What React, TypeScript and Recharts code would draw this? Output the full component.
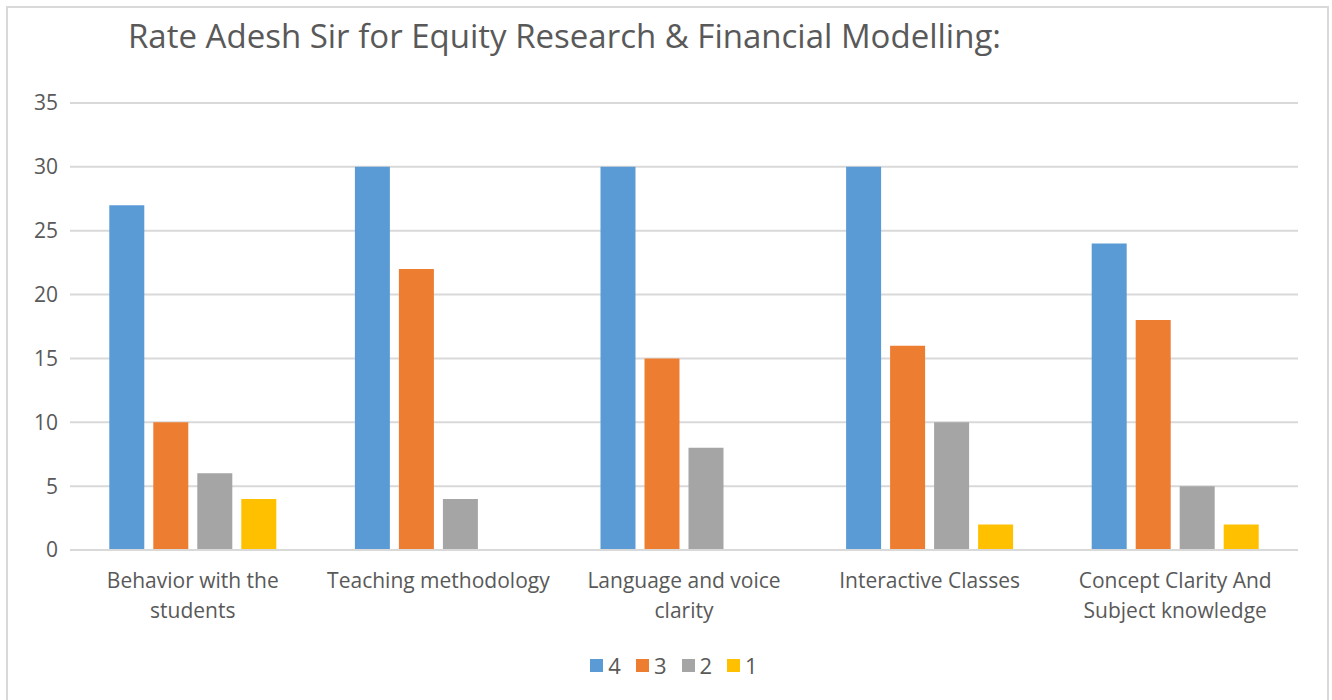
import { BarChart, Bar, XAxis, YAxis, CartesianGrid } from "recharts";

const title = "Rate Adesh Sir for Equity Research & Financial Modelling:";

const categories = [
  "Behavior with the students",
  "Teaching methodology",
  "Language and voice clarity",
  "Interactive Classes",
  "Concept Clarity And Subject knowledge",
];

const seriesNames = ["4", "3", "2", "1"];
const seriesColors = ["#5b9bd5", "#ed7d31", "#a5a5a5", "#ffc000"];

const rating4 = [27, 30, 30, 30, 24];
const rating3 = [10, 22, 15, 16, 18];
const rating2 = [6, 4, 8, 10, 5];
const rating1 = [4, 0, 0, 2, 2];

const yTicks = [0, 5, 10, 15, 20, 25, 30, 35];

const seriesValues = [rating4, rating3, rating2, rating1];

const data = categories.map((name, i) => {
  const row: Record<string, string | number> = { name };
  seriesNames.forEach((s, j) => {
    row[s] = seriesValues[j][i];
  });
  return row;
});

const FONT = "'Open Sans', 'Noto Sans', sans-serif";
const TEXT = "#595959";

function wrap(label: string, max: number) {
  const words = label.split(" ");
  const lines: string[] = [];
  let cur = "";
  for (const w of words) {
    const next = cur ? cur + " " + w : w;
    if (next.length > max && cur) {
      lines.push(cur);
      cur = w;
    } else {
      cur = next;
    }
  }
  if (cur) lines.push(cur);
  return lines;
}

function CategoryTick(props: any) {
  const { x, y, payload } = props;
  const lines = wrap(String(payload.value), 20);
  return (
    <text
      x={x}
      y={y}
      textAnchor="middle"
      fill={TEXT}
      fontSize={21}
      fontFamily={FONT}
    >
      {lines.map((l, i) => (
        <tspan key={i} x={x} dy={30}>
          {l}
        </tspan>
      ))}
    </text>
  );
}

export default function App() {
  return (
    <div
      style={{
        position: "absolute",
        left: 0,
        top: 0,
        width: 1332,
        height: 700,
        background: "#fff",
        overflow: "hidden",
        fontFamily: FONT,
      }}
    >
      <div
        style={{
          position: "absolute",
          left: 6,
          top: 6,
          width: 1319,
          height: 720,
          border: "2px solid #d9d9d9",
        }}
      />
      <div
        style={{
          position: "absolute",
          left: 128,
          top: 12,
          fontSize: 33,
          lineHeight: "48px",
          color: TEXT,
          whiteSpace: "nowrap",
        }}
      >
        {title}
      </div>
      <div style={{ position: "absolute", left: 0, top: 0 }}>
        <BarChart
          width={1332}
          height={700}
          data={data}
          margin={{ top: 103, right: 34, bottom: 50, left: 0 }}
          barGap={9}
          barCategoryGap="16%"
        >
          <CartesianGrid vertical={false} stroke="#d9d9d9" strokeWidth={2} />
          <XAxis
            dataKey="name"
            height={100}
            axisLine={{ stroke: "#d9d9d9", strokeWidth: 2 }}
            tickLine={false}
            interval={0}
            tick={<CategoryTick />}
          />
          <YAxis
            width={70}
            domain={[0, 35]}
            ticks={yTicks}
            axisLine={false}
            tickLine={false}
            tickMargin={6}
            tick={{ fill: TEXT, fontSize: 21, fontFamily: FONT }}
          />
          {seriesNames.map((s, i) => (
            <Bar
              key={s}
              dataKey={s}
              fill={seriesColors[i]}
              isAnimationActive={false}
            />
          ))}
        </BarChart>
      </div>
      <div
        style={{
          position: "absolute",
          top: 650,
          left: 8,
          width: 1332,
          display: "flex",
          justifyContent: "center",
          gap: 15,
          fontSize: 22,
          color: TEXT,
        }}
      >
        {seriesNames.map((s, i) => (
          <div key={s} style={{ display: "flex", alignItems: "center", gap: 5 }}>
            <span
              style={{
                width: 13,
                height: 13,
                background: seriesColors[i],
                display: "inline-block",
              }}
            />
            <span>{s}</span>
          </div>
        ))}
      </div>
    </div>
  );
}
